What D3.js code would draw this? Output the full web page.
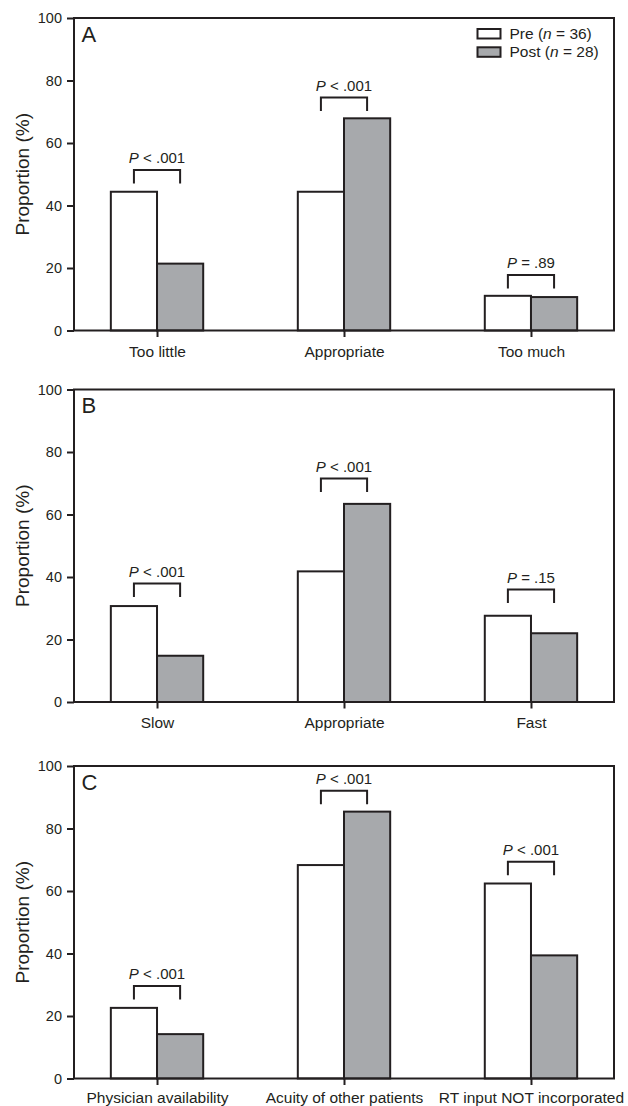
<!DOCTYPE html>
<html>
<head>
<meta charset="utf-8">
<script src="https://cdn.jsdelivr.net/npm/d3@7"></script>
<style>
  html, body { margin: 0; padding: 0; background: #fff; }
  svg { display: block; }
  text { font-family: "Liberation Sans", Arial, Helvetica, sans-serif; fill: #231f20; }
</style>
</head>
<body>
<svg id="chart" width="628" height="1106"></svg>
<script>
// ---- data ----
const panelLetters = ["A", "B", "C"];
const categoriesA = ["Too little", "Appropriate", "Too much"];
const categoriesB = ["Slow", "Appropriate", "Fast"];
const categoriesC = ["Physician availability", "Acuity of other patients", "RT input NOT incorporated"];
const preA = [44.4, 44.4, 11.1];
const postA = [21.4, 67.9, 10.7];
const preB = [30.7, 41.8, 27.6];
const postB = [14.8, 63.4, 22.0];
const preC = [22.6, 68.3, 62.4];
const postC = [14.2, 85.4, 39.4];
const pTextA = ["< .001", "< .001", "= .89"];
const pTextB = ["< .001", "< .001", "= .15"];
const pTextC = ["< .001", "< .001", "< .001"];
const bracketA = [51.4, 74.6, 17.8];
const bracketB = [37.9, 71.5, 36.0];
const bracketC = [29.6, 92.1, 69.4];
const yTicks = [0, 20, 40, 60, 80, 100];
const seriesNames = ["Pre", "Post"];
const seriesN = [36, 28];
const yLabel = "Proportion (%)";

// ---- layout ----
const INK = "#231f20";
const GRAY = "#a7a9ac";
const left = 74, right = 614;
const panelTops = [18, 389.5, 766];
const plotH = 312.5;
const labelPad = [8.5, 8.5, 6.5];

const panels = [
  { letter: panelLetters[0], cats: categoriesA, pre: preA, post: postA, p: pTextA, br: bracketA },
  { letter: panelLetters[1], cats: categoriesB, pre: preB, post: postB, p: pTextB, br: bracketB },
  { letter: panelLetters[2], cats: categoriesC, pre: preC, post: postC, p: pTextC, br: bracketC }
];

const svg = d3.select("#chart");

panels.forEach((pd, pi) => {
  const top = panelTops[pi];
  const g = svg.append("g").attr("transform", `translate(0,${top})`);
  const y = d3.scaleLinear().domain([0, 100]).range([plotH, 0]);
  const x = d3.scalePoint().domain(pd.cats).range([left, right]).padding(0.444);
  const bw = x.step() * 0.247;

  // bars
  const rows = pd.cats.map((c, i) => ({ c, pre: pd.pre[i], post: pd.post[i], p: pd.p[i], br: pd.br[i] }));
  g.selectAll("rect.pre").data(rows).join("rect")
    .attr("x", d => x(d.c) - bw).attr("width", bw)
    .attr("y", d => y(d.pre)).attr("height", d => y(0) - y(d.pre))
    .attr("fill", "#fff").attr("stroke", INK).attr("stroke-width", 2);
  g.selectAll("rect.post").data(rows).join("rect")
    .attr("x", d => x(d.c)).attr("width", bw)
    .attr("y", d => y(d.post)).attr("height", d => y(0) - y(d.post))
    .attr("fill", GRAY).attr("stroke", INK).attr("stroke-width", 2);

  // brackets
  const legLen = 13.5;
  g.selectAll("path.br").data(rows).join("path")
    .attr("d", d => {
      const x1 = x(d.c) - bw / 2, x2 = x(d.c) + bw / 2, yy = y(d.br);
      return `M${x1},${yy + legLen}V${yy}H${x2}V${yy + legLen}`;
    })
    .attr("fill", "none").attr("stroke", INK).attr("stroke-width", 2);
  const pt = g.selectAll("text.pv").data(rows).join("text")
    .attr("x", d => x(d.c)).attr("y", d => y(d.br) - 6.7)
    .attr("text-anchor", "middle").attr("font-size", 15);
  pt.append("tspan").attr("font-style", "italic").text("P");
  pt.append("tspan").text(d => " " + d.p);

  // frame
  g.append("rect").attr("x", left).attr("y", y(100)).attr("width", right - left).attr("height", plotH)
    .attr("fill", "none").attr("stroke", INK).attr("stroke-width", 2);

  // y axis
  const ya = g.append("g").attr("transform", `translate(${left},0)`)
    .call(d3.axisLeft(y).tickValues(yTicks).tickSize(7).tickPadding(5).tickSizeOuter(0));
  ya.select(".domain").remove();
  ya.selectAll("line").attr("stroke", INK).attr("stroke-width", 2);
  ya.selectAll("text").attr("font-size", 14.5).attr("fill", INK)
    .style("font-family", "'Liberation Sans', Arial, sans-serif");

  // x axis
  const xa = g.append("g").attr("transform", `translate(0,${plotH})`)
    .call(d3.axisBottom(x).tickSize(6.5).tickPadding(labelPad[pi]).tickSizeOuter(0));
  xa.select(".domain").remove();
  xa.selectAll("line").attr("stroke", INK).attr("stroke-width", 2);
  xa.selectAll("text").attr("font-size", 15.5).attr("fill", INK)
    .style("font-family", "'Liberation Sans', Arial, sans-serif");

  // panel letter
  g.append("text").attr("x", left + 7.5).attr("y", y(100) + 23.8)
    .attr("font-size", 22).text(pd.letter);

  // y label
  g.append("text")
    .attr("transform", `translate(22,${y(50)}) rotate(-90)`)
    .attr("text-anchor", "middle").attr("dominant-baseline", "central")
    .attr("font-size", 19).text(yLabel);

  // legend only in panel A
  if (pi === 0) {
    const lg = g.append("g");
    seriesNames.forEach((s, i) => {
      const yy = 11 + i * 18.3;
      lg.append("rect").attr("x", 477.5).attr("y", yy).attr("width", 23).attr("height", 9.5)
        .attr("fill", i === 0 ? "#fff" : GRAY).attr("stroke", INK).attr("stroke-width", 2);
      const t = lg.append("text").attr("x", 509.5).attr("y", yy + 9.5).attr("font-size", 15.5);
      t.append("tspan").text(s + " (");
      t.append("tspan").attr("font-style", "italic").text("n");
      t.append("tspan").text(" = " + seriesN[i] + ")");
    });
  }
});
</script>
</body>
</html>
